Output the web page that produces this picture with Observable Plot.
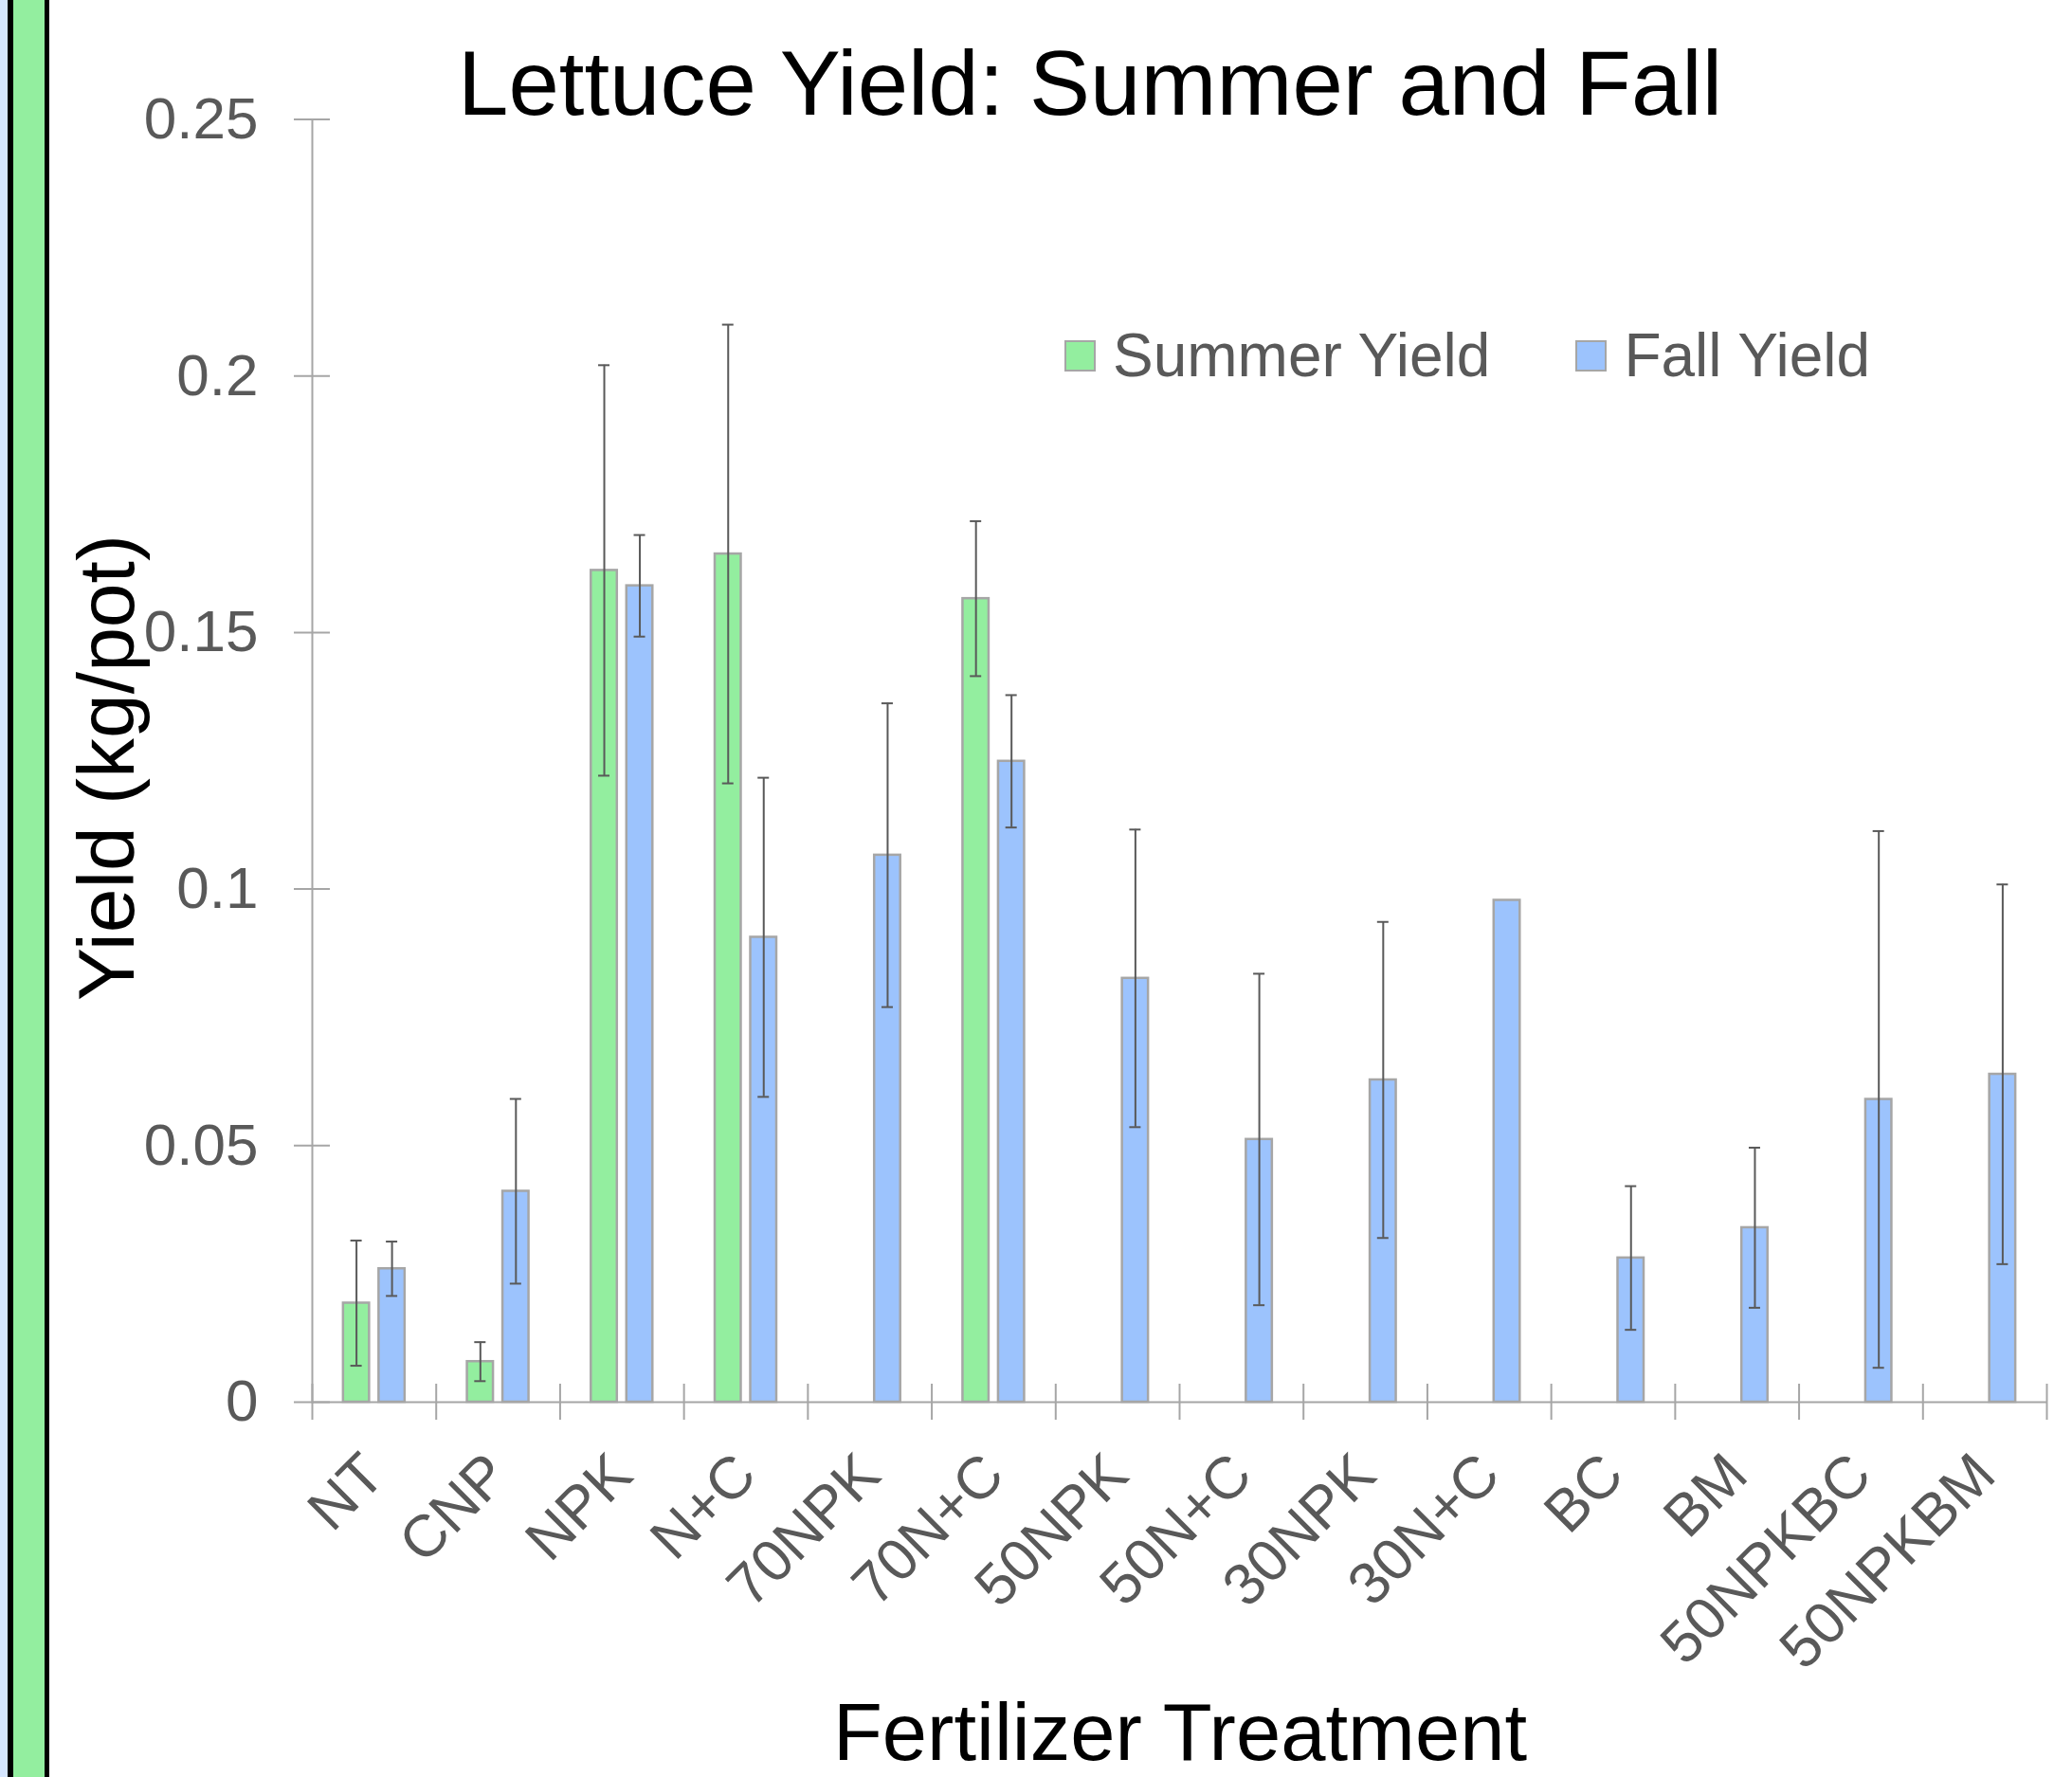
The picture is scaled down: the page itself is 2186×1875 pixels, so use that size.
<!DOCTYPE html>
<html>
<head>
<meta charset="utf-8">
<script src="https://cdn.jsdelivr.net/npm/d3@7"></script>
<script src="https://cdn.jsdelivr.net/npm/@observablehq/plot@0.6"></script>
<style>
  html, body { margin: 0; padding: 0; background: #fff; }
  #page { position: relative; width: 2186px; height: 1875px; overflow: hidden;
          font-family: "Liberation Sans", Arial, sans-serif; background: #fff; }
  #strip { position: absolute; left: 0; top: 0; width: 52px; height: 1875px;
           background: linear-gradient(to right, #d6e6ff 0 8px, #000 8px 14px, #93ee9f 14px 47px, #000 47px 52px); }
  #chart { position: absolute; left: 0; top: 0; }
  #title { position: absolute; left: 150px; width: 2000px; top: 40px; text-align: center;
           font-size: 96px; line-height: 96px; color: #000; white-space: nowrap; }
  #xtitle { position: absolute; left: 245px; width: 2000px; top: 1793px; text-align: center;
            font-size: 85px; line-height: 70px; color: #000; white-space: nowrap; }
  #ytitle { position: absolute; left: -288px; width: 800px; top: 768px; text-align: center;
            font-size: 84px; line-height: 84px; color: #000; white-space: nowrap;
            transform: rotate(-90deg); transform-origin: 400px 42px; }
  #legend { position: absolute; left: 1123px; top: 343px; display: flex; align-items: center;
            font-size: 64px; line-height: 64px; color: #595959; white-space: nowrap; }
  .item { display: flex; align-items: center; margin-right: 90px; }
  .item:last-child { margin-right: 0; }
  .sw { width: 29px; height: 29px; border: 2px solid #a6a6a6; margin-right: 18px; }
</style>
</head>
<body>
<div id="page">
  <div id="strip"></div>
  <div id="chart"></div>
  <div id="title"></div>
  <div id="ytitle"></div>
  <div id="xtitle"></div>
  <div id="legend"></div>
</div>
<script>
// ---------------- data ----------------
const chartTitle = "Lettuce Yield: Summer and Fall";
const xTitle = "Fertilizer Treatment";
const yTitle = "Yield (kg/pot)";
const categories = ["NT","CNP","NPK","N+C","70NPK","70N+C","50NPK","50N+C","30NPK","30N+C","BC","BM","50NPKBC","50NPKBM"];
const seriesNames = ["Summer Yield", "Fall Yield"];
const summerYield = [0.0193, 0.0079, 0.1621, 0.1653, null, 0.1566, null, null, null, null, null, null, null, null];
const summerError = [0.0122, 0.0038, 0.0400, 0.0447, null, 0.0151, null, null, null, null, null, null, null, null];
const fallYield   = [0.0260, 0.0411, 0.1591, 0.0906, 0.1066, 0.1249, 0.0826, 0.0512, 0.0628, 0.0978, 0.0281, 0.0340, 0.0590, 0.0639];
const fallError   = [0.0053, 0.0180, 0.0099, 0.0311, 0.0296, 0.0129, 0.0290, 0.0323, 0.0308, null, 0.0140, 0.0156, 0.0523, 0.0370];
const yTicks = [0, 0.05, 0.1, 0.15, 0.2, 0.25];

// ---------------- style ----------------
const colors = ["#93ee9f", "#9cc3fd"];
const barStroke = "#a6a6a6";
const axisGray = "#a6a6a6";
const labelGray = "#595959";
const errColor = "#595959";

const W = 2186, H = 1875;
const mL = 329, mR = 27, mT = 125.5, mB = 396;
const bw = (W - mL - mR) / categories.length;
const barW = 27.5, gap = 10, capHalf = 6;
const off = gap / 2 + barW / 2;

const summerRows = categories.map((c, i) => ({cat: c, v: summerYield[i], e: summerError[i]})).filter(d => d.v != null);
const fallRows = categories.map((c, i) => ({cat: c, v: fallYield[i], e: fallError[i]})).filter(d => d.v != null);
const summerErrRows = summerRows.filter(d => d.e != null);
const fallErrRows = fallRows.filter(d => d.e != null);

function errorMarks(rows, dx) {
  return [
    Plot.ruleX(rows, {x: "cat", y1: d => d.v - d.e, y2: d => d.v + d.e, dx, stroke: errColor, strokeWidth: 2}),
    Plot.tickY(rows, {x: "cat", y: d => d.v + d.e, dx, insetLeft: bw / 2 - capHalf, insetRight: bw / 2 - capHalf, stroke: errColor, strokeWidth: 2}),
    Plot.tickY(rows, {x: "cat", y: d => d.v - d.e, dx, insetLeft: bw / 2 - capHalf, insetRight: bw / 2 - capHalf, stroke: errColor, strokeWidth: 2})
  ];
}

const chart = Plot.plot({
  width: W, height: H,
  marginLeft: mL, marginRight: mR, marginTop: mT, marginBottom: mB,
  style: {fontFamily: "'Liberation Sans', Arial, sans-serif", background: "transparent", overflow: "visible"},
  x: {type: "band", domain: categories, padding: 0, round: false, axis: null},
  y: {domain: [0, 0.25], axis: null},
  marks: [
    // axis lines
    Plot.frame({anchor: "left", stroke: axisGray, strokeWidth: 2}),
    Plot.ruleY([0], {stroke: axisGray, strokeWidth: 2}),
    // y ticks (cross style) and labels
    Plot.axisY({ticks: yTicks, tickSize: 38, dx: 19, fill: "none", stroke: axisGray, strokeWidth: 2, label: null}),
    Plot.axisY({ticks: yTicks, tickSize: 0, tickPadding: 57, tickFormat: d => String(+d.toFixed(2)),
                fontSize: 62, fill: labelGray, label: null}),
    // x ticks at category boundaries
    Plot.axisX({ticks: categories, tickSize: 38, dy: -19, dx: -bw / 2, fill: "none", stroke: axisGray, strokeWidth: 2, label: null}),
    Plot.axisX({ticks: categories.slice(-1), tickSize: 38, dy: -19, dx: bw / 2, fill: "none", stroke: axisGray, strokeWidth: 2, label: null}),
    // x tick labels
    Plot.text(categories, {x: d => d, frameAnchor: "bottom", rotate: -45, textAnchor: "end", lineAnchor: "middle",
                           dy: 66, fontSize: 62, fill: labelGray}),
    // bars
    Plot.barY(summerRows, {x: "cat", y: "v", fill: colors[0], stroke: barStroke, strokeWidth: 2.5,
                           insetLeft: bw / 2 - gap / 2 - barW, insetRight: bw / 2 + gap / 2}),
    Plot.barY(fallRows, {x: "cat", y: "v", fill: colors[1], stroke: barStroke, strokeWidth: 2.5,
                         insetLeft: bw / 2 + gap / 2, insetRight: bw / 2 - gap / 2 - barW}),
    // error bars
    ...errorMarks(summerErrRows, -off),
    ...errorMarks(fallErrRows, off)
  ]
});
document.getElementById("chart").appendChild(chart);

document.getElementById("title").textContent = chartTitle;
document.getElementById("xtitle").textContent = xTitle;
document.getElementById("ytitle").textContent = yTitle;

const legend = document.getElementById("legend");
seriesNames.forEach((name, i) => {
  const item = document.createElement("div");
  item.className = "item";
  const sw = document.createElement("div");
  sw.className = "sw";
  sw.style.background = colors[i];
  const label = document.createElement("span");
  label.textContent = name;
  item.appendChild(sw);
  item.appendChild(label);
  legend.appendChild(item);
});
</script>
</body>
</html>
